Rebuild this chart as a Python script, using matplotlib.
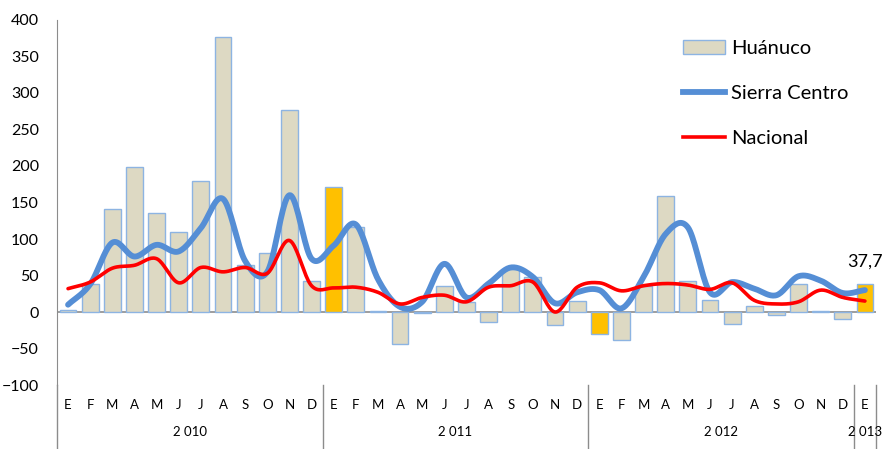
import numpy as np
import matplotlib.pyplot as plt
from matplotlib.patches import Patch
from matplotlib.lines import Line2D

months = ["E", "F", "M", "A", "M", "J", "J", "A", "S", "O", "N", "D"] * 3 + ["E"]
years = ["2 010", "2 011", "2 012", "2 013"]

huanuco = [3, 38, 141, 199, 135, 110, 179, 377, 65, 81, 277, 42,
           171, 117, 1.5, -44.5, -2, 36, 14, -14, 59, 48, -18, 15,
           -29.5, -38, 36, 159, 42, 16, -16, 8, -3.5, 39, 1.5, -9.5,
           37.7]
sierra = [10, 38, 95, 76, 92, 83, 115, 155, 70, 55, 160, 73,
          91, 120, 45, 7, 14, 66, 20, 39, 61, 48, 12, 27,
          30, 5, 48, 107, 116, 27, 41, 32, 23, 49, 43, 26,
          30]
nacional = [32, 41, 60, 64, 73, 40, 61, 55, 61, 53, 98, 36,
            33, 34, 27, 11, 20, 23, 14, 34, 36, 41, 0, 34,
            40, 29, 36, 39, 37, 31, 40, 16, 11, 14, 30, 20,
            15]
# January bars are highlighted
highlight = [12, 24, 36]


def smooth(x, y, n=20):
    # catmull-rom through the points, like excel's smoothed line
    x = np.asarray(x, float)
    y = np.asarray(y, float)
    px = np.concatenate([[2 * x[0] - x[1]], x, [2 * x[-1] - x[-2]]])
    py = np.concatenate([[2 * y[0] - y[1]], y, [2 * y[-1] - y[-2]]])
    xs, ys = [], []
    t = np.linspace(0, 1, n, endpoint=False)
    for i in range(1, len(px) - 2):
        for p, out in ((px, xs), (py, ys)):
            p0, p1, p2, p3 = p[i - 1], p[i], p[i + 1], p[i + 2]
            out.extend(0.5 * ((2 * p1) + (-p0 + p2) * t
                              + (2 * p0 - 5 * p1 + 4 * p2 - p3) * t ** 2
                              + (-p0 + 3 * p1 - 3 * p2 + p3) * t ** 3))
    xs.append(x[-1])
    ys.append(y[-1])
    return np.array(xs), np.array(ys)


plt.rcParams['font.family'] = ['Lato', 'DejaVu Sans']

fig = plt.figure(figsize=(8.86, 4.49), dpi=100)
ax = fig.add_axes([0.0643, 0.1425, 0.9244, 0.813])

x = np.arange(len(huanuco))
colors = ['#FFC000' if i in highlight else '#DDD9C3' for i in x]
ax.bar(x, huanuco, width=0.76, color=colors, edgecolor='#8DB4E2', linewidth=1.0, zorder=2)

sx, sy = smooth(x, sierra)
ax.plot(sx, sy, color='#558ED5', lw=4.2, solid_capstyle='round', zorder=3)
nx, ny = smooth(x, nacional)
ax.plot(nx, ny, color='#FF0000', lw=2.6, solid_capstyle='round', zorder=4)

ax.axhline(0, color='#8C8C8C', lw=1.2, zorder=1)
ax.text(x[-1], huanuco[-1] + 20, "37,7", ha='center', va='bottom', fontsize=13)

ax.set_xlim(-0.5, len(x) - 0.5)
ax.set_ylim(-100, 400)
ax.set_yticks(np.arange(-100, 401, 50))
ax.tick_params(axis='y', length=0, labelsize=11.5, pad=13)
ax.set_xticks([])
for s in ['top', 'right', 'bottom']:
    ax.spines[s].set_visible(False)
ax.spines['left'].set_color('#8C8C8C')

# left axis continues down through the category labels
ax.plot([-0.5, -0.5], [-100, -190], color='#8C8C8C', lw=1.0, clip_on=False)

tr = ax.get_xaxis_transform()
for i, m in enumerate(months):
    ax.text(i, -0.055, m, transform=tr, ha='center', va='center', fontsize=9.5)
year_pos = [5.5, 17.5, 29.5, 36]
for p, yr in zip(year_pos, years):
    ax.text(p, -0.13, yr, transform=tr, ha='center', va='center', fontsize=9.5)
for b in [11.5, 23.5, 35.5, 36.5]:
    ax.plot([b, b], [-0.0, -0.18], transform=tr, color='#8C8C8C', lw=1.0, clip_on=False)

handles = [Patch(facecolor='#DDD9C3', edgecolor='#8DB4E2'),
           Line2D([0], [0], color='#558ED5', lw=4.2),
           Line2D([0], [0], color='#FF0000', lw=2.6)]
ax.legend(handles, ["Huánuco", "Sierra Centro", "Nacional"], loc='upper left',
          bbox_to_anchor=(683 / 886, 1 - 40 / 449), bbox_transform=fig.transFigure,
          frameon=False, fontsize=14.5, borderpad=0, borderaxespad=0,
          handlelength=2.1, handleheight=0.7, labelspacing=1.38, handletextpad=0.3)

fig.savefig('out.png', dpi=100)
